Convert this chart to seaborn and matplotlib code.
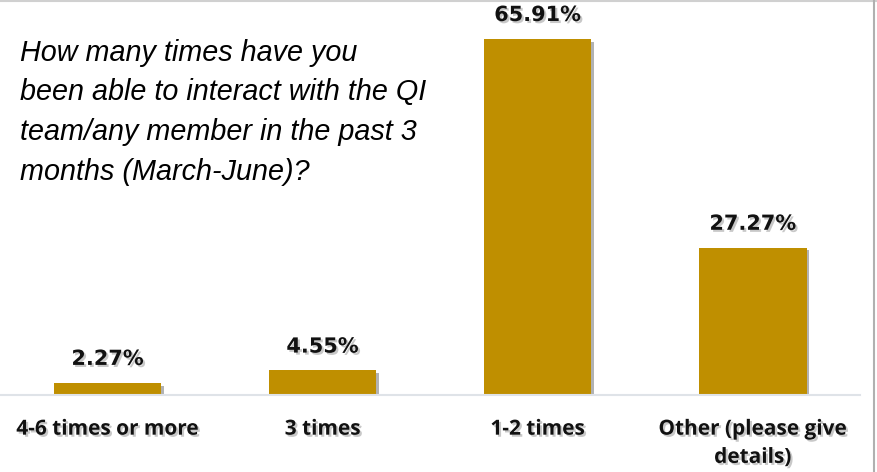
import matplotlib
matplotlib.use("Agg")
import matplotlib.pyplot as plt
import matplotlib.patheffects as pe
import seaborn as sns
import pandas as pd

categories = ["4-6 times or more", "3 times", "1-2 times", "Other (please give\ndetails)"]
values = [2.27, 4.55, 65.91, 27.27]
value_labels = ["2.27%", "4.55%", "65.91%", "27.27%"]
title_text = ("How many times have you\nbeen able to interact with the QI\n"
              "team/any member in the past 3\nmonths (March-June)?")

sns.set_theme(style="white")
plt.rcParams['font.family'] = ['Open Sans', 'DejaVu Sans']

df = pd.DataFrame({"cat": categories, "val": values})

fig = plt.figure(figsize=(8.77, 4.72), dpi=100)
ax = fig.add_axes([0.0, 0.163, 0.981, 0.837])
sns.barplot(data=df, x="cat", y="val", color="#BF8F00", saturation=1, width=0.5, ax=ax)

shadow = [pe.SimplePatchShadow(offset=(2, -2), shadow_rgbFace="#555555", alpha=0.45), pe.Normal()]
for p in ax.patches:
    p.set_path_effects(shadow)
    p.set_edgecolor("none")

ax.set_xlim(-0.5, 3.5)
ax.set_ylim(0, 73.1)
for s in ["left", "right", "top"]:
    ax.spines[s].set_visible(False)
ax.spines["bottom"].set_color("#dfe3e8")
ax.spines["bottom"].set_linewidth(1.5)
ax.set_yticks([])
ax.set_xlabel("")
ax.set_ylabel("")
ax.tick_params(axis="x", length=0, pad=17)
txt_shadow = [pe.SimplePatchShadow(offset=(1.5, -1.5), shadow_rgbFace="#777777", alpha=0.4), pe.Normal()]
for lab in ax.get_xticklabels():
    lab.set_fontsize(15)
    lab.set_fontweight("bold")
    lab.set_color("#111111")
    lab.set_linespacing(1.45)
    lab.set_path_effects(txt_shadow)

for i, (v, t) in enumerate(zip(values, value_labels)):
    ax.annotate(t, (i, v), xytext=(0, 10), textcoords="offset points", ha="center", va="bottom",
                fontsize=15, fontweight="bold", family="DejaVu Sans", color="#111111",
                path_effects=txt_shadow)

fig.text(0.023, 0.918, title_text, ha="left", va="top", fontsize=20.7, style="italic",
         family=["Liberation Sans", "DejaVu Sans"], color="#000000", linespacing=1.53)

# frame lines at top and right edge
fig.add_artist(plt.Line2D([0, 1], [0.997, 0.997], color="#d0d0d0", lw=1.5, transform=fig.transFigure))
fig.add_artist(plt.Line2D([0.997, 0.997], [0, 1], color="#b0b0b0", lw=1.5, transform=fig.transFigure))

fig.savefig("out.png", dpi=100)
